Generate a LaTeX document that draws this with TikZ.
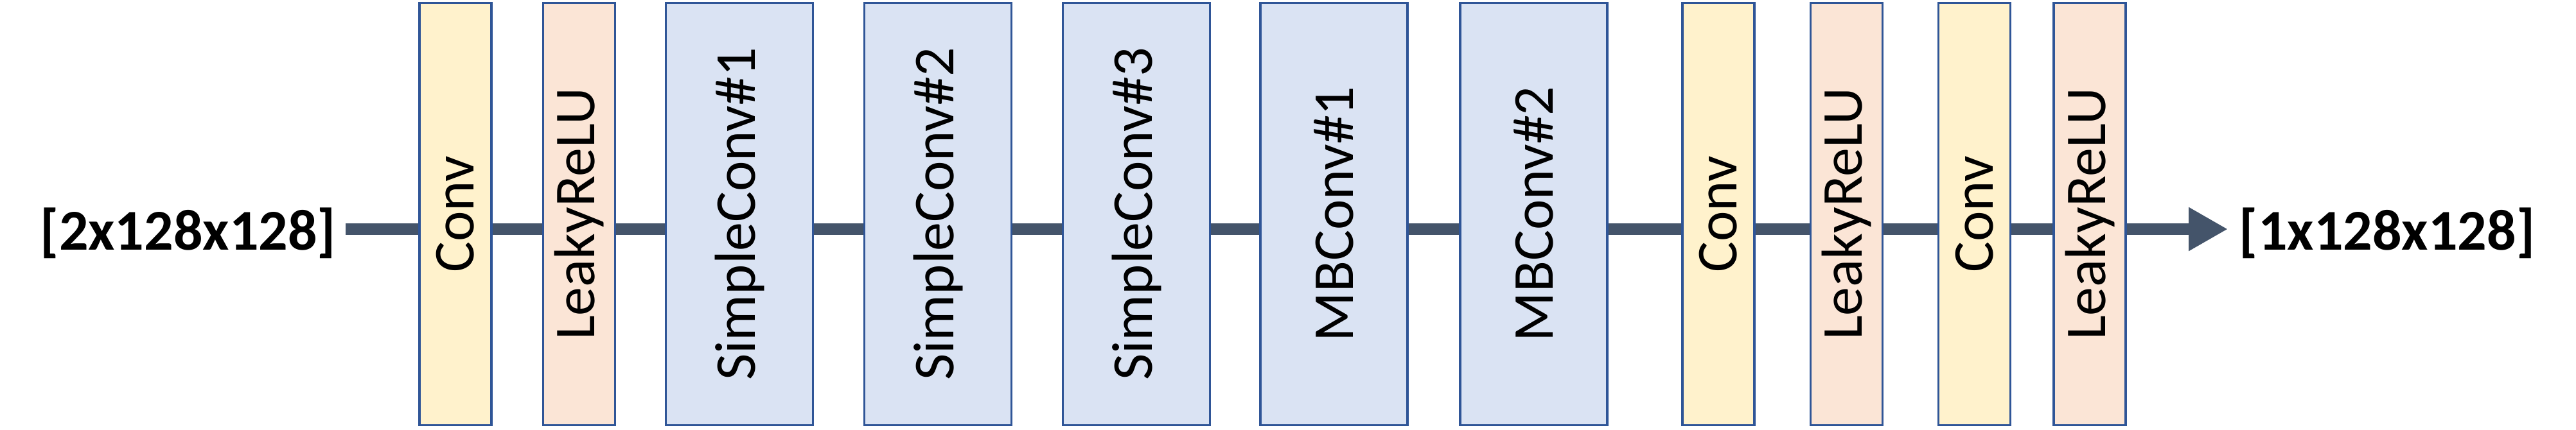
\documentclass[tikz,border=0pt]{standalone}
\usepackage{fontspec}
\setmainfont{Carlito}
\usetikzlibrary{arrows.meta}
\definecolor{convfill}{HTML}{FFF2CC}
\definecolor{relufill}{HTML}{FBE5D6}
\definecolor{blockfill}{HTML}{DAE3F3}
\definecolor{boxline}{HTML}{2F5597}
\definecolor{flowline}{HTML}{44546A}
\tikzset{
  layer/.style={draw=boxline, line width=1.1pt, rotate=90, minimum width=6.58cm,
    inner sep=0pt, font=\fontsize{25.6}{28}\selectfont},
  narrow/.style={layer, minimum height=1.12cm},
  wide/.style={layer, minimum height=2.29cm},
  shape label/.style={font=\bfseries\fontsize{25.6}{28}\selectfont, inner sep=0pt}
}
\begin{document}
\begin{tikzpicture}
    \useasboundingbox (0,0) rectangle (40.10,6.69);

    % Ein- und Ausgabe
    \node[shape label] (input) at (2.93,3.06) {[2x128x128]};
    \node[shape label] (output) at (37.16,3.06) {[1x128x128]};
    \coordinate (start) at (5.38,3.12);
    \coordinate (stop) at (34.68,3.12);

    % Datenfluss
    \draw[flowline, line width=5.4pt, -{Triangle[length=0.61cm, width=0.64cm]}] (start) -- (stop);

    % Schichten
    \node[narrow, fill=convfill] (conva) at (7.09,3.355) {Conv};
    \node[narrow, fill=relufill] (relua) at (9.015,3.355) {LeakyReLU};
    \node[wide, fill=blockfill] (simplea) at (11.51,3.355) {SimpleConv\#1};
    \node[wide, fill=blockfill] (simpleb) at (14.60,3.355) {SimpleConv\#2};
    \node[wide, fill=blockfill] (simplec) at (17.69,3.355) {SimpleConv\#3};
    \node[wide, fill=blockfill] (mba) at (20.765,3.355) {MBConv\#1};
    \node[wide, fill=blockfill] (mbb) at (23.875,3.355) {MBConv\#2};
    \node[narrow, fill=convfill] (convb) at (26.75,3.355) {Conv};
    \node[narrow, fill=relufill] (relub) at (28.745,3.355) {LeakyReLU};
    \node[narrow, fill=convfill] (convc) at (30.735,3.355) {Conv};
    \node[narrow, fill=relufill] (reluc) at (32.53,3.355) {LeakyReLU};
\end{tikzpicture}
\end{document}
